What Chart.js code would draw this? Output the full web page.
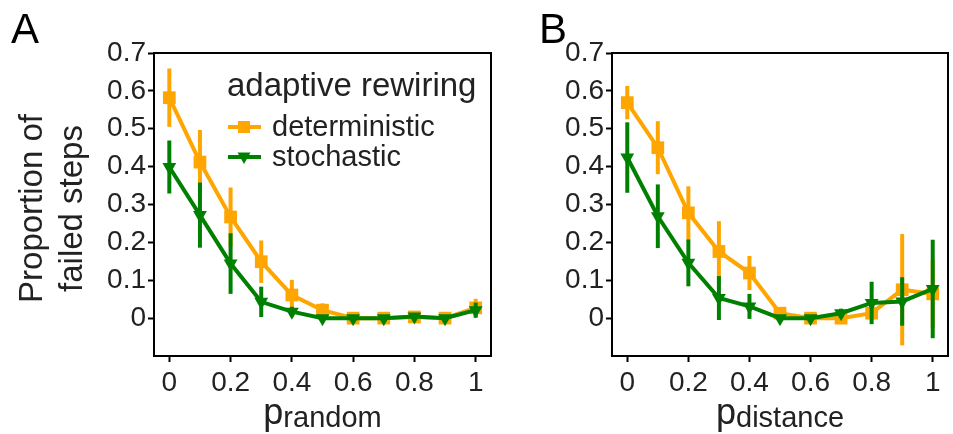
<!DOCTYPE html>
<html>
<head>
<meta charset="utf-8">
<script src="https://cdn.jsdelivr.net/npm/chart.js@4.4.1/dist/chart.umd.min.js"></script>
<style>
  html, body { margin: 0; padding: 0; background: #fff; }
  #wrap { position: relative; width: 953px; height: 434px; overflow: hidden; }
  canvas { position: absolute; top: 0; }
</style>
</head>
<body>
<div id="wrap">
  <canvas id="chartA" width="520" height="434" style="left:0"></canvas>
  <canvas id="chartB" width="437" height="434" style="left:520px"></canvas>
</div>
<script>
const FONT = '"Liberation Sans", Arial, sans-serif';
const TEXT = '#222';
const ORANGE = '#ffa500';
const GREEN = '#008000';

// x positions (same for both panels)
const pValues = [0, 0.1, 0.2, 0.3, 0.4, 0.5, 0.6, 0.7, 0.8, 0.9, 1];

// panel A: p_random
const randomDet    = [0.582, 0.412, 0.267, 0.149, 0.061, 0.021, 0, 0, 0.003, 0, 0.027];
const randomDetErr = [0.077, 0.085, 0.078, 0.056, 0.040, 0.018, 0.004, 0.004, 0.005, 0.004, 0.024];
const randomSto    = [0.399, 0.272, 0.144, 0.043, 0.017, 0, 0, 0, 0.004, 0, 0.021];
const randomStoErr = [0.070, 0.086, 0.080, 0.040, 0.013, 0.006, 0.004, 0.004, 0.006, 0.004, 0.020];

// panel B: p_distance
const distDet    = [0.569, 0.450, 0.278, 0.176, 0.119, 0.013, 0, 0, 0.013, 0.075, 0.064];
const distDetErr = [0.044, 0.070, 0.070, 0.080, 0.045, 0.015, 0.004, 0.004, 0.010, 0.147, 0.090];
const distSto    = [0.424, 0.269, 0.146, 0.053, 0.031, 0, 0, 0.013, 0.040, 0.044, 0.077];
const distStoErr = [0.093, 0.084, 0.062, 0.058, 0.033, 0.005, 0.005, 0.012, 0.056, 0.064, 0.130];

// ticks
const xTickValues = [0, 0.2, 0.4, 0.6, 0.8, 1];
const xTickLabels = ['0', '0.2', '0.4', '0.6', '0.8', '1'];
const yTickValues = [0, 0.1, 0.2, 0.3, 0.4, 0.5, 0.6, 0.7];
const yTickLabels = ['0', '0.1', '0.2', '0.3', '0.4', '0.5', '0.6', '0.7'];

const seriesNames = ['deterministic', 'stochastic'];
const legendTitle = 'adaptive rewiring';

function points(ys) {
  return pValues.map((x, i) => ({ x: x, y: ys[i] }));
}

// vertical error bars, drawn just before each line so stacking matches
const errorBars = {
  id: 'errorBars',
  beforeDatasetDraw(chart, args) {
    const ds = chart.data.datasets[args.index];
    if (!ds.errors) return;
    const xs = chart.scales.x, ys = chart.scales.y;
    const ctx = chart.ctx;
    ctx.save();
    ctx.strokeStyle = ds.borderColor;
    ctx.lineWidth = 4;
    ds.data.forEach((pt, i) => {
      const px = xs.getPixelForValue(pt.x);
      ctx.beginPath();
      ctx.moveTo(px, ys.getPixelForValue(pt.y - ds.errors[i]));
      ctx.lineTo(px, ys.getPixelForValue(pt.y + ds.errors[i]));
      ctx.stroke();
    });
    ctx.restore();
  }
};

// box + panel letter + x title with subscript + extras
const decorations = {
  id: 'decorations',
  afterDraw(chart, args, opts) {
    const ctx = chart.ctx;
    const a = chart.chartArea;
    ctx.save();
    ctx.strokeStyle = '#000';
    ctx.lineWidth = 2;
    ctx.strokeRect(a.left, a.top, a.right - a.left, a.bottom - a.top);

    // panel letter
    ctx.fillStyle = '#000';
    ctx.font = '42px ' + FONT;
    ctx.textBaseline = 'alphabetic';
    ctx.textAlign = 'left';
    ctx.fillText(opts.letter, opts.letterX, 43);

    // x title: p with subscript
    ctx.fillStyle = TEXT;
    ctx.font = '36px ' + FONT;
    const wp = ctx.measureText('p').width;
    ctx.font = '29px ' + FONT;
    const ws = ctx.measureText(opts.sub).width;
    const cx = (a.left + a.right) / 2;
    const x0 = cx - (wp + ws) / 2;
    ctx.font = '36px ' + FONT;
    ctx.fillText('p', x0, 424);
    ctx.font = '29px ' + FONT;
    ctx.fillText(opts.sub, x0 + wp, 427);

    if (opts.yTitle) {
      ctx.save();
      ctx.translate(0, (a.top + a.bottom) / 2 + 4);
      ctx.rotate(-Math.PI / 2);
      ctx.font = '33px ' + FONT;
      ctx.textAlign = 'center';
      ctx.fillText(opts.yTitle[0], 0, 42);
      ctx.fillText(opts.yTitle[1], 0, 82);
      ctx.restore();
    }

    if (opts.legend) {
      ctx.font = '33px ' + FONT;
      ctx.fillText(legendTitle, 227, 96);
      const rows = [
        { y: 127, color: ORANGE, shape: 'rect' },
        { y: 157, color: GREEN, shape: 'tri' }
      ];
      rows.forEach((r, i) => {
        ctx.strokeStyle = r.color;
        ctx.fillStyle = r.color;
        ctx.lineWidth = 4;
        ctx.beginPath();
        ctx.moveTo(228, r.y);
        ctx.lineTo(261, r.y);
        ctx.stroke();
        ctx.beginPath();
        if (r.shape === 'rect') {
          ctx.rect(244 - 6, r.y - 6, 12, 12);
        } else {
          ctx.moveTo(244 - 6.5, r.y - 4.5);
          ctx.lineTo(244 + 6.5, r.y - 4.5);
          ctx.lineTo(244, r.y + 7);
          ctx.closePath();
        }
        ctx.fill();
        ctx.fillStyle = TEXT;
        ctx.font = '29px ' + FONT;
        ctx.fillText(seriesNames[i], 272, r.y + 9);
      });
    }
    ctx.restore();
  }
};

function makePanel(id, det, detErr, sto, stoErr, yAxisWidth, rightPad, deco) {
  const ctx = document.getElementById(id).getContext('2d');
  return new Chart(ctx, {
    type: 'line',
    data: {
      datasets: [
        {
          label: seriesNames[1],
          data: points(sto),
          errors: stoErr,
          borderColor: GREEN,
          backgroundColor: GREEN,
          borderWidth: 4,
          pointStyle: 'triangle',
          pointRotation: 180,
          pointRadius: 8,
          pointBorderWidth: 0,
          order: 0
        },
        {
          label: seriesNames[0],
          data: points(det),
          errors: detErr,
          borderColor: ORANGE,
          backgroundColor: ORANGE,
          borderWidth: 4,
          pointStyle: 'rect',
          pointRadius: 9,
          pointBorderWidth: 0,
          order: 1
        }
      ]
    },
    options: {
      responsive: false,
      animation: false,
      devicePixelRatio: 1,
      layout: { padding: { left: 0, top: 53, right: rightPad, bottom: 0 } },
      plugins: {
        legend: { display: false },
        tooltip: { enabled: false },
        decorations: deco
      },
      scales: {
        x: {
          type: 'linear',
          min: -0.05,
          max: 1.05,
          afterBuildTicks: (scale) => { scale.ticks = xTickValues.map(v => ({ value: v })); },
          afterFit: (scale) => { scale.height = 78; },
          grid: { drawOnChartArea: false, drawTicks: true, tickLength: 6, tickWidth: 2, tickColor: '#000' },
          border: { display: false },
          ticks: {
            autoSkip: false,
            maxRotation: 0,
            padding: 4,
            color: TEXT,
            font: { family: FONT, size: 28 },
            callback: (v, i) => xTickLabels[i]
          }
        },
        y: {
          type: 'linear',
          min: -0.1,
          max: 0.7,
          afterBuildTicks: (scale) => { scale.ticks = yTickValues.map(v => ({ value: v })); },
          afterFit: (scale) => { scale.width = yAxisWidth; },
          grid: { drawOnChartArea: false, drawTicks: true, tickLength: 6, tickWidth: 2, tickColor: '#000' },
          border: { display: false },
          ticks: {
            autoSkip: false,
            padding: 2,
            color: TEXT,
            font: { family: FONT, size: 28 },
            callback: (v, i) => yTickLabels[i]
          }
        }
      }
    },
    plugins: [errorBars, decorations]
  });
}

makePanel('chartA', randomDet, randomDetErr, randomSto, randomStoErr, 154, 29,
  { letter: 'A', letterX: 11, sub: 'random', yTitle: ['Proportion of', 'failed steps'], legend: true });
makePanel('chartB', distDet, distDetErr, distSto, distStoErr, 92, 0,
  { letter: 'B', letterX: 19, sub: 'distance' });
</script>
</body>
</html>
